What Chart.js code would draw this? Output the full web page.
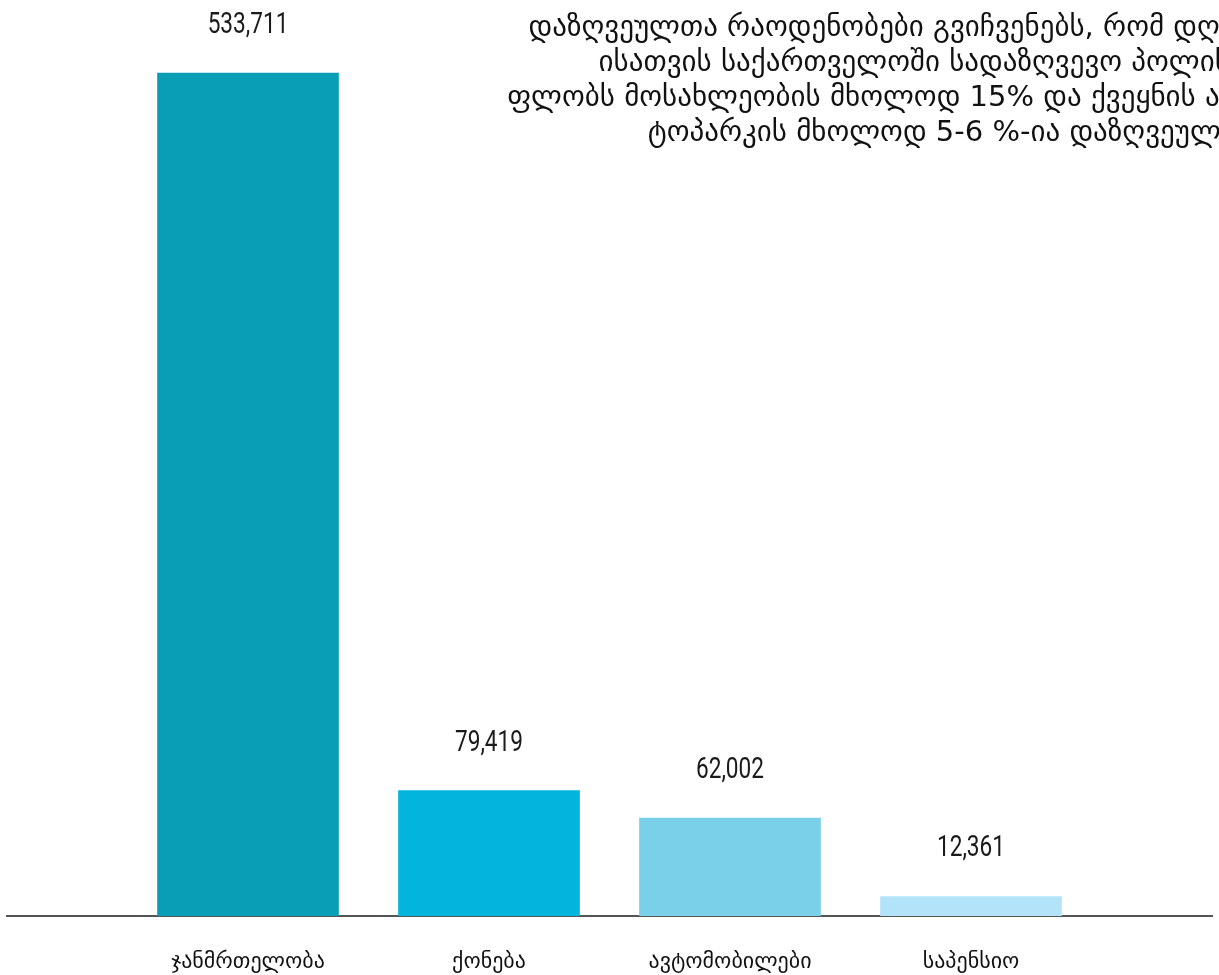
<!DOCTYPE html>
<html lang="ka">
<head>
<meta charset="utf-8">
<title>დაზღვეულთა რაოდენობა</title>
<script src="https://cdn.jsdelivr.net/npm/chart.js@4.4.1/dist/chart.umd.min.js"></script>
<style>
  html, body { margin: 0; padding: 0; background: #fff; }
  .wrap { width: 1219px; height: 975px; position: relative; }
</style>
</head>
<body>
<div class="wrap"><canvas class="insured-chart"></canvas></div>
<script>
const categories = ["ჯანმრთელობა", "ქონება", "ავტომობილები", "საპენსიო"];
const insured = [533711, 79419, 62002, 12361];
const barColors = ["#0a9db6", "#03b4dc", "#7acfe9", "#b2e3f8"];
const noteLines = [
  "დაზღვეულთა რაოდენობები გვიჩვენებს, რომ დღე-",
  "ისათვის საქართველოში სადაზღვევო პოლისს",
  "ფლობს მოსახლეობის მხოლოდ 15% და ქვეყნის ავ-",
  "ტოპარკის მხოლოდ 5-6 %-ია დაზღვეული.",
];

const geoFont = "'DejaVu Sans', sans-serif";
const numFont = "Roboto, 'DejaVu Sans', sans-serif";

// empty slots on both ends keep the bars off the axis edges
const labels = ["", ...categories, ""];
const values = [null, ...insured, null];
const colors = ["#fff", ...barColors, "#fff"];

const valueLabels = {
  id: "valueLabels",
  afterDatasetsDraw(chart) {
    const { ctx } = chart;
    const meta = chart.getDatasetMeta(0);
    ctx.save();
    ctx.font = `29px ${numFont}`;
    ctx.fillStyle = "#1a1a1a";
    ctx.textAlign = "center";
    ctx.textBaseline = "alphabetic";
    meta.data.forEach((bar, i) => {
      const v = values[i];
      if (v == null) return;
      ctx.save();
      ctx.translate(bar.x, bar.y - 40);
      ctx.scale(0.78, 1); // narrow numerals
      ctx.fillText(v.toLocaleString("en-US"), 0, 0);
      ctx.restore();
    });
    ctx.restore();
  },
};

const sideNote = {
  id: "sideNote",
  afterDraw(chart) {
    const { ctx } = chart;
    ctx.save();
    ctx.font = `29px ${geoFont}`;
    ctx.fillStyle = "#111";
    ctx.textAlign = "right";
    ctx.textBaseline = "alphabetic";
    noteLines.forEach((line, i) => {
      ctx.fillText(line, 1245, 36 + i * 35);
    });
    ctx.restore();
  },
};

const ctx = document.querySelector(".insured-chart").getContext("2d");

new Chart(ctx, {
  type: "bar",
  data: {
    labels: labels,
    datasets: [
      {
        data: values,
        backgroundColor: colors,
        barThickness: 181,
        borderWidth: 0,
      },
    ],
  },
  options: {
    responsive: true,
    maintainAspectRatio: false,
    animation: false,
    layout: {
      padding: { left: 7, right: 7, top: 0, bottom: 0 },
    },
    scales: {
      x: {
        offset: false,
        grid: { display: false, drawTicks: false },
        border: { display: true, color: "#555", width: 2 },
        ticks: {
          color: "#111",
          font: { family: geoFont, size: 22 },
          padding: 33,
          maxRotation: 0,
          autoSkip: false,
        },
        afterFit(scale) {
          scale.height = 59;
          scale.paddingLeft = 0;
          scale.paddingRight = 0;
        },
      },
      y: {
        display: false,
        min: 0,
        max: 580000,
      },
    },
    plugins: {
      legend: { display: false },
      tooltip: { enabled: false },
    },
  },
  plugins: [valueLabels, sideNote],
});
</script>
</body>
</html>
